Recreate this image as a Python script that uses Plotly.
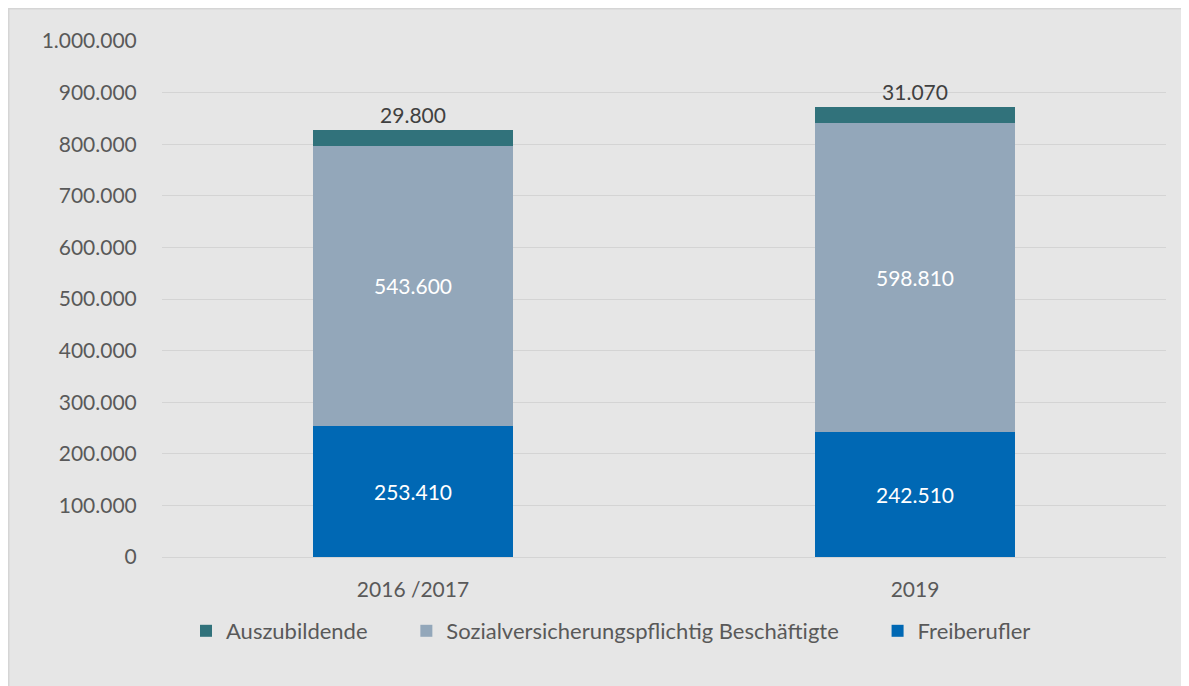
import plotly.graph_objects as go

categories = ["2016 /2017", "2019"]
freiberufler = [253410, 242510]
sozial = [543600, 598810]
azubi = [29800, 31070]
tick_vals = [0, 100000, 200000, 300000, 400000, 500000, 600000, 700000, 800000, 900000, 1000000]
tick_text = ["0", "100.000", "200.000", "300.000", "400.000", "500.000", "600.000",
             "700.000", "800.000", "900.000", "1.000.000"]

def fmt(v):
    return f"{v:,}".replace(",", ".")

FONT = "Lato, Open Sans, sans-serif"
SP = "\u00a0" * 6

fig = go.Figure()
fig.add_trace(go.Bar(name="Freiberufler", x=categories, y=freiberufler,
                     marker=dict(color="#0068b4", line=dict(width=0)),
                     text=[fmt(v) for v in freiberufler], textposition="inside",
                     insidetextanchor="middle",
                     textfont=dict(color="white", size=21, family=FONT)))
fig.add_trace(go.Bar(name="Sozialversicherungspflichtig Beschäftigte" + SP, x=categories, y=sozial,
                     marker=dict(color="#93a7ba", line=dict(width=0)),
                     text=[fmt(v) for v in sozial], textposition="inside",
                     insidetextanchor="middle",
                     textfont=dict(color="white", size=21, family=FONT)))
fig.add_trace(go.Bar(name="Auszubildende" + SP, x=categories, y=azubi,
                     marker=dict(color="#31727b", line=dict(width=0)),
                     text=[fmt(v) for v in azubi], textposition="outside",
                     cliponaxis=False,
                     textfont=dict(color="#404040", size=21, family=FONT)))

# page body has an 8px margin; figure coordinates = screen - 8
OFF = 8
W, H = 1189 - OFF, 686 - OFF
l, r, t, b = 162 - OFF, 23, 41 - OFF, 129
pw, ph = W - l - r, H - t - b

def px(x):
    return (x - OFF - l) / pw

def py(y):
    return (H - b - (y - OFF)) / ph

fig.add_shape(type="rect", xref="paper", yref="paper",
              x0=px(8.5), x1=px(1200), y0=py(700), y1=py(8.5),
              fillcolor="#e6e6e6", line=dict(color="#d5d5d5", width=2), layer="below")

fig.update_layout(
    width=W, height=H,
    margin=dict(l=l, r=r, t=t, b=b, pad=0),
    paper_bgcolor="#e6e6e6",
    plot_bgcolor="rgba(0,0,0,0)",
    barmode="stack",
    bargap=0.6,
    font=dict(family=FONT, color="#595959", size=21),
    showlegend=True,
    legend=dict(orientation="h", traceorder="reversed", x=px(186), xanchor="left",
                y=py(610), yanchor="top", font=dict(size=22, color="#595959"),
                bgcolor="rgba(0,0,0,0)", itemwidth=30),
    xaxis=dict(showline=True, linecolor="#d4d4d4", linewidth=1, ticks="outside",
               ticklen=14, tickcolor="rgba(0,0,0,0)",
               tickfont=dict(size=21, color="#595959")),
    yaxis=dict(range=[0, 1000000], tickvals=tick_vals, ticktext=tick_text,
               showgrid=True, gridcolor="#d4d4d4", gridwidth=1, zeroline=False,
               ticks="outside", ticklen=20, tickcolor="rgba(0,0,0,0)",
               tickfont=dict(size=21, color="#595959")),
)

fig.write_html("out.html")
